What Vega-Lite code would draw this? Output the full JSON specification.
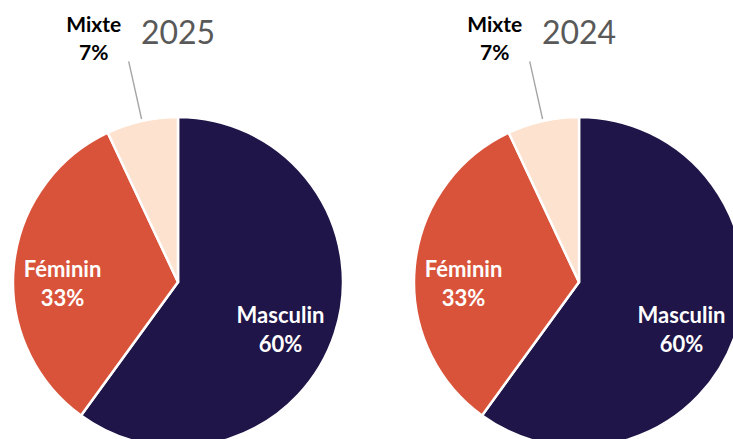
{
  "$schema": "https://vega.github.io/schema/vega-lite/v6.json",
  "autosize": {"type": "none"},
  "padding": {"left": 0, "top": 125, "right": 0, "bottom": 0},
  "width": 733,
  "height": 314,
  "background": "white",
  "config": {"view": {"stroke": null}, "font": "Lato"},
  "data": {
    "values": [
      {"year": "2025", "genre": "Masculin", "share": 0.60},
      {"year": "2025", "genre": "Féminin", "share": 0.33},
      {"year": "2025", "genre": "Mixte", "share": 0.07},
      {"year": "2024", "genre": "Masculin", "share": 0.60},
      {"year": "2024", "genre": "Féminin", "share": 0.33},
      {"year": "2024", "genre": "Mixte", "share": 0.07}
    ]
  },
  "encoding": {
    "x": {"field": "year", "type": "nominal", "axis": null,
      "scale": {"type": "point", "domain": ["2025", "2024"], "range": [178, 579], "padding": 0}}
  },
  "layer": [
    {
      "transform": [{"filter": "datum.year === '2025'"}],
      "encoding": {
        "theta": {"field": "share", "type": "quantitative", "stack": true},
        "order": {"field": "share", "sort": "descending"},
        "detail": {"field": "genre", "type": "nominal"}
      },
      "layer": [
        {
          "mark": {"type": "arc", "outerRadius": 165, "stroke": "white", "strokeWidth": 2.5},
          "encoding": {
            "color": {"field": "genre", "type": "nominal", "legend": null,
              "scale": {"domain": ["Masculin", "Féminin", "Mixte"], "range": ["#1F1548", "#D9533A", "#FDE2CF"]}}
          }
        },
        {
          "mark": {"type": "arc", "innerRadius": 167, "outerRadius": 226, "padAngle": 1.2, "fill": "transparent", "strokeWidth": 1.4},
          "encoding": {
            "stroke": {"condition": {"test": "datum.genre === 'Mixte'", "value": "#A6A6A6"}, "value": "transparent"}
          }
        },
        {
          "mark": {"type": "text", "radius": 112, "dx": -4, "dy": -1, "fontSize": 22, "fontWeight": "bold", "fill": "white"},
          "encoding": {
            "text": {"field": "genre", "type": "nominal"},
            "opacity": {"condition": {"test": "datum.genre === 'Mixte'", "value": 0}, "value": 1}
          }
        },
        {
          "mark": {"type": "text", "radius": 112, "dx": -4, "dy": 28, "fontSize": 22, "fontWeight": "bold", "fill": "white"},
          "encoding": {
            "text": {"field": "share", "type": "quantitative", "format": ".0%"},
            "opacity": {"condition": {"test": "datum.genre === 'Mixte'", "value": 0}, "value": 1}
          }
        },
        {
          "mark": {"type": "text", "radius": 249, "dx": -30, "dy": -13, "fontSize": 21, "fontWeight": "bold", "fill": "black"},
          "encoding": {
            "text": {"field": "genre", "type": "nominal"},
            "opacity": {"condition": {"test": "datum.genre === 'Mixte'", "value": 1}, "value": 0}
          }
        },
        {
          "mark": {"type": "text", "radius": 249, "dx": -30, "dy": 15, "fontSize": 21, "fontWeight": "bold", "fill": "black"},
          "encoding": {
            "text": {"field": "share", "type": "quantitative", "format": ".0%"},
            "opacity": {"condition": {"test": "datum.genre === 'Mixte'", "value": 1}, "value": 0}
          }
        }
      ]
    },
    {
      "transform": [{"filter": "datum.year === '2024'"}],
      "encoding": {
        "theta": {"field": "share", "type": "quantitative", "stack": true},
        "order": {"field": "share", "sort": "descending"},
        "detail": {"field": "genre", "type": "nominal"}
      },
      "layer": [
        {
          "mark": {"type": "arc", "outerRadius": 165, "stroke": "white", "strokeWidth": 2.5},
          "encoding": {
            "color": {"field": "genre", "type": "nominal", "legend": null,
              "scale": {"domain": ["Masculin", "Féminin", "Mixte"], "range": ["#1F1548", "#D9533A", "#FDE2CF"]}}
          }
        },
        {
          "mark": {"type": "arc", "innerRadius": 167, "outerRadius": 226, "padAngle": 1.2, "fill": "transparent", "strokeWidth": 1.4},
          "encoding": {
            "stroke": {"condition": {"test": "datum.genre === 'Mixte'", "value": "#A6A6A6"}, "value": "transparent"}
          }
        },
        {
          "mark": {"type": "text", "radius": 112, "dx": -4, "dy": -1, "fontSize": 22, "fontWeight": "bold", "fill": "white"},
          "encoding": {
            "text": {"field": "genre", "type": "nominal"},
            "opacity": {"condition": {"test": "datum.genre === 'Mixte'", "value": 0}, "value": 1}
          }
        },
        {
          "mark": {"type": "text", "radius": 112, "dx": -4, "dy": 28, "fontSize": 22, "fontWeight": "bold", "fill": "white"},
          "encoding": {
            "text": {"field": "share", "type": "quantitative", "format": ".0%"},
            "opacity": {"condition": {"test": "datum.genre === 'Mixte'", "value": 0}, "value": 1}
          }
        },
        {
          "mark": {"type": "text", "radius": 249, "dx": -30, "dy": -13, "fontSize": 21, "fontWeight": "bold", "fill": "black"},
          "encoding": {
            "text": {"field": "genre", "type": "nominal"},
            "opacity": {"condition": {"test": "datum.genre === 'Mixte'", "value": 1}, "value": 0}
          }
        },
        {
          "mark": {"type": "text", "radius": 249, "dx": -30, "dy": 15, "fontSize": 21, "fontWeight": "bold", "fill": "black"},
          "encoding": {
            "text": {"field": "share", "type": "quantitative", "format": ".0%"},
            "opacity": {"condition": {"test": "datum.genre === 'Mixte'", "value": 1}, "value": 0}
          }
        }
      ]
    },
    {
      "transform": [{"aggregate": [{"op": "count", "as": "n"}], "groupby": ["year"]}],
      "mark": {"type": "text", "dy": -238, "baseline": "alphabetic", "fontSize": 32, "fontWeight": "normal", "fill": "#595959"},
      "encoding": {
        "text": {"field": "year", "type": "nominal"}
      }
    }
  ]
}
